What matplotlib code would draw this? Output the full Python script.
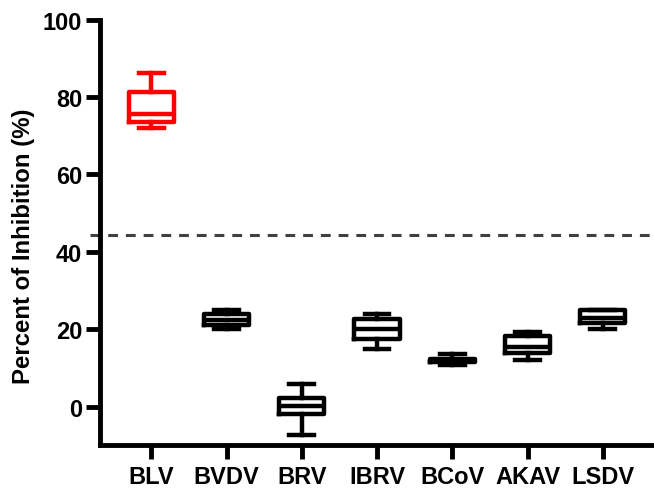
import matplotlib
matplotlib.use("Agg")
import matplotlib.pyplot as plt

# 数据
labels = ["BLV", "BVDV", "BRV", "IBRV", "BCoV", "AKAV", "LSDV"]
whislo = [71.9, 20.2, -7.4, 14.9, 10.8, 12.0, 20.1]
q1 = [73.5, 21.1, -2.0, 17.4, 11.5, 13.9, 21.5]
med = [75.7, 22.3, 0.2, 20.2, 11.9, 15.5, 22.8]
q3 = [81.2, 23.9, 2.2, 22.7, 12.3, 18.2, 24.9]
whishi = [86.3, 25.0, 5.9, 24.0, 13.7, 19.4, 25.1]
colors = ["#FF0000", "black", "black", "black", "black", "black", "black"]
cutoff = 44.25

plt.rcParams['font.family'] = ['Liberation Sans', 'DejaVu Sans']
plt.rcParams['font.weight'] = 'bold'

fig = plt.figure(figsize=(6.54, 4.89), dpi=100)
ax = fig.add_axes([0.153, 0.087, 0.847, 0.871])

lw = 3.2
for i in range(len(labels)):
    stats = [{"whislo": whislo[i], "q1": q1[i], "med": med[i],
              "q3": q3[i], "whishi": whishi[i], "fliers": []}]
    c = colors[i]
    ax.bxp(stats, positions=[i], widths=0.6, capwidths=0.33,
           showfliers=False,
           boxprops=dict(color=c, linewidth=lw),
           medianprops=dict(color=c, linewidth=lw),
           whiskerprops=dict(color=c, linewidth=lw),
           capprops=dict(color=c, linewidth=lw))

# 阈值虚线
ax.plot([-0.82, 6.68], [cutoff, cutoff], color="#404040", linewidth=2.2,
        dashes=(3.2, 2.6), clip_on=False, zorder=0)

ax.set_xlim(-0.68, 6.68)
ax.set_ylim(-10, 100)
ax.set_xticks(range(len(labels)))
ax.set_xticklabels(labels)
ax.set_yticks([0, 20, 40, 60, 80, 100])
ax.set_ylabel("Percent of Inhibition (%)", fontsize=17.3, fontweight='bold')
ax.yaxis.set_label_coords(-0.118, 0.47)

for s in ["top", "right"]:
    ax.spines[s].set_visible(False)
for s in ["left", "bottom"]:
    ax.spines[s].set_linewidth(3.5)
ax.tick_params(axis='both', width=3.5, length=10, labelsize=17, pad=3)
ax.tick_params(axis='x', pad=4)

plt.savefig("out.png", dpi=100)
